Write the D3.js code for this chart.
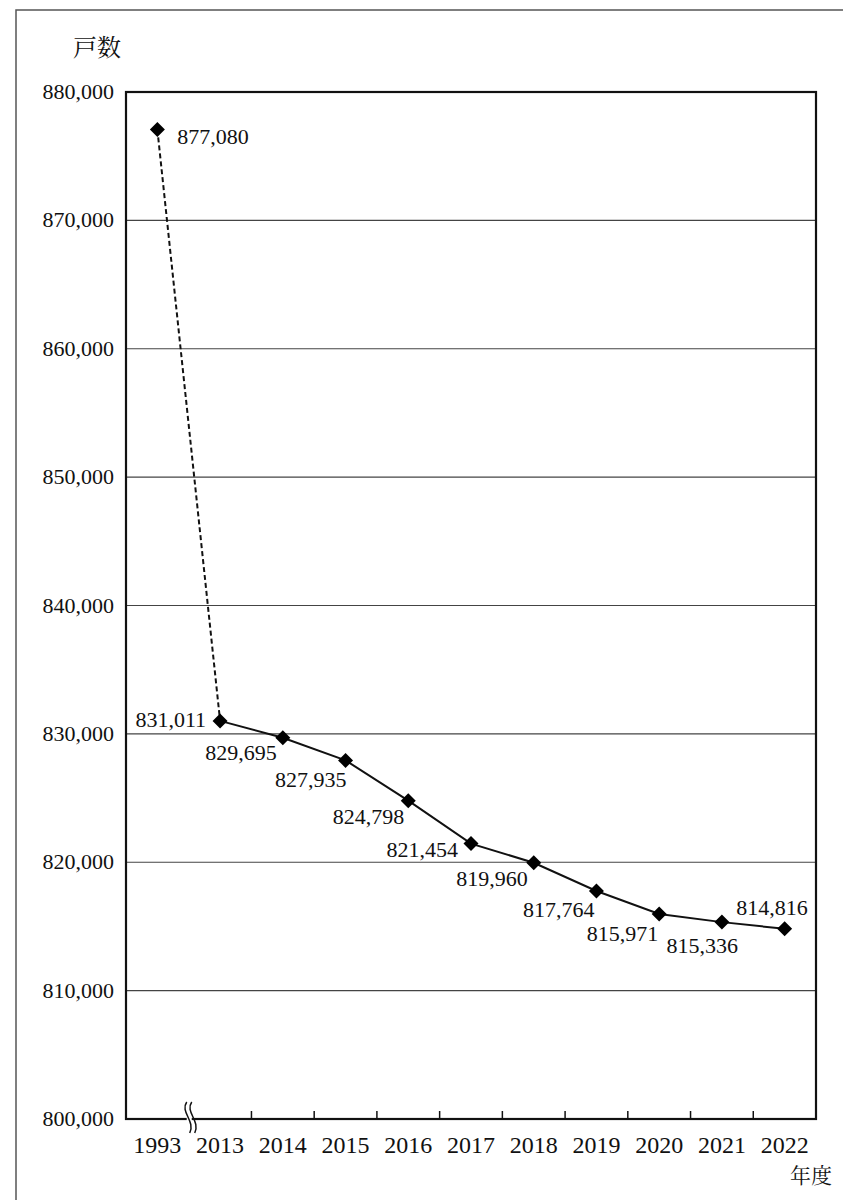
<!DOCTYPE html>
<html>
<head>
<meta charset="utf-8">
<title>戸数の推移</title>
<script src="https://d3js.org/d3.v7.min.js"></script>
<style>
  body { margin: 0; background: #fff; }
</style>
</head>
<body>
<div id="chart"></div>
<script>
// data
var years = ["1993", "2013", "2014", "2015", "2016", "2017", "2018", "2019", "2020", "2021", "2022"];
var households = [877080, 831011, 829695, 827935, 824798, 821454, 819960, 817764, 815971, 815336, 814816];
var yTicks = [800000, 810000, 820000, 830000, 840000, 850000, 860000, 870000, 880000];

// where each data label sits relative to its marker [dx, dy, anchor]
var labelPos = [
  [20, 15, "start"], [-14, 6, "end"], [-6, 22, "end"], [1, 27, "end"],
  [-4, 23, "end"], [-13, 13, "end"], [-6, 23, "end"], [-2, 26, "end"],
  [-1, 27, "end"], [16, 31, "end"], [23, -14, "end"]
];

var serif = "'Liberation Serif', 'Times New Roman', serif";
var jp = "'Noto Serif CJK JP', 'Noto Sans CJK JP', serif";

var W = 843, H = 1200;
var plot = {left: 126, top: 92, right: 816, bottom: 1119};

var svg = d3.select("#chart").append("svg")
  .attr("width", W).attr("height", H)
  .style("font-family", serif);

// outer frame (cut off at right and bottom)
svg.append("rect")
  .attr("x", 16).attr("y", 10)
  .attr("width", W + 20).attr("height", H + 20)
  .attr("fill", "none").attr("stroke", "#555").attr("stroke-width", 1.5);

var x = d3.scaleBand().domain(years).range([plot.left, plot.right]);
var y = d3.scaleLinear().domain([800000, 880000]).range([plot.bottom, plot.top]);
var cx = function(d, i) { return x(years[i]) + x.bandwidth() / 2; };

// gridlines
svg.append("g")
  .selectAll("line")
  .data(yTicks.slice(1, -1))
  .enter().append("line")
    .attr("x1", plot.left).attr("x2", plot.right)
    .attr("y1", function(d) { return y(d); })
    .attr("y2", function(d) { return y(d); })
    .attr("stroke", "#444").attr("stroke-width", 1.2);

// y labels
svg.append("g")
  .selectAll("text")
  .data(yTicks)
  .enter().append("text")
    .attr("x", plot.left - 12)
    .attr("y", function(d) { return y(d) + 7; })
    .attr("text-anchor", "end")
    .style("font-family", serif)
    .attr("font-size", "22px")
    .attr("fill", "#111")
    .text(function(d) { return d3.format(",")(d); });

// x ticks at band boundaries (none at the break)
var bounds = years.slice(2).map(function(d) { return x(d); });
svg.append("g")
  .selectAll("line")
  .data(bounds)
  .enter().append("line")
    .attr("x1", function(d) { return d; }).attr("x2", function(d) { return d; })
    .attr("y1", plot.bottom).attr("y2", plot.bottom - 8)
    .attr("stroke", "#111").attr("stroke-width", 1.5);

// x labels
svg.append("g")
  .selectAll("text")
  .data(years)
  .enter().append("text")
    .attr("x", function(d) { return x(d) + x.bandwidth() / 2; })
    .attr("y", plot.bottom + 34)
    .attr("text-anchor", "middle")
    .style("font-family", serif)
    .attr("font-size", "24px")
    .attr("fill", "#111")
    .text(function(d) { return d; });

// plot frame
svg.append("rect")
  .attr("x", plot.left).attr("y", plot.top)
  .attr("width", plot.right - plot.left).attr("height", plot.bottom - plot.top)
  .attr("fill", "none").attr("stroke", "#111").attr("stroke-width", 2.2);

// axis break mark
var bx = x(years[1]);
var wave = function(o) {
  var x0 = bx - 2 + o;
  return "M" + x0 + "," + (plot.bottom - 17) +
    " C" + (x0 - 7) + "," + (plot.bottom - 7) + " " + (x0 + 9) + "," + (plot.bottom + 2) + " " + (x0 + 3) + "," + (plot.bottom + 14);
};
svg.append("rect")
  .attr("x", bx - 2).attr("y", plot.bottom - 3)
  .attr("width", 5).attr("height", 6)
  .attr("fill", "#fff");
svg.append("g")
  .selectAll("path")
  .data([0, 5])
  .enter().append("path")
    .attr("d", function(d) { return wave(d); })
    .attr("fill", "none").attr("stroke", "#111").attr("stroke-width", 1.5);

// lines
var line = d3.line()
  .x(function(d) { return d[0]; })
  .y(function(d) { return y(d[1]); });
var pts = households.map(function(d, i) { return [cx(d, i), d]; });

svg.append("path")
  .attr("d", line(pts.slice(0, 2)))
  .attr("fill", "none").attr("stroke", "#111").attr("stroke-width", 2)
  .attr("stroke-dasharray", "5,3");
svg.append("path")
  .attr("d", line(pts.slice(1)))
  .attr("fill", "none").attr("stroke", "#111").attr("stroke-width", 2);

// markers
svg.append("g")
  .selectAll("path")
  .data(households)
  .enter().append("path")
    .attr("transform", function(d, i) { return "translate(" + cx(d, i) + "," + y(d) + ")"; })
    .attr("d", "M0,-7.5 L7.5,0 L0,7.5 L-7.5,0 Z")
    .attr("fill", "#000");

// data labels
svg.append("g")
  .selectAll("text")
  .data(households)
  .enter().append("text")
    .attr("x", function(d, i) { return cx(d, i) + labelPos[i][0]; })
    .attr("y", function(d, i) { return y(d) + labelPos[i][1]; })
    .attr("text-anchor", function(d, i) { return labelPos[i][2]; })
    .style("font-family", serif)
    .attr("font-size", "22px")
    .attr("fill", "#111")
    .text(function(d) { return d3.format(",")(d); });

// axis titles
svg.append("text")
  .attr("x", 73).attr("y", 56)
  .style("font-family", jp)
  .attr("font-size", "24px")
  .attr("fill", "#111")
  .text("戸数");
svg.append("text")
  .attr("x", 832).attr("y", 1183)
  .attr("text-anchor", "end")
  .style("font-family", jp)
  .attr("font-size", "21px")
  .attr("fill", "#111")
  .text("年度");
</script>
</body>
</html>
